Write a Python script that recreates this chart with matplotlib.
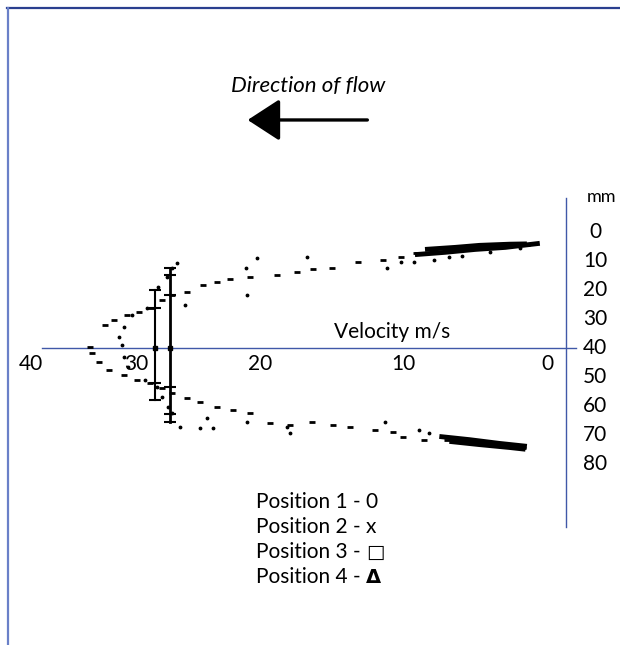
import matplotlib.pyplot as plt

# velocity profiles: velocity (m/s) vs distance across pipe (mm)
pos1_v = [31.85, 30.8, 30.2, 29.3, 28.4, 27.6, 26.8, 26.1, 25.1, 24.0, 23.0, 22.1, 20.7, 18.8,
          17.4, 16.3, 15.0, 13.2, 11.4, 10.2, 9.1, 7.5, 5.6, 3.8, 1.4]
pos1_mm = [39.7, 32.1, 30.3, 28.6, 27.6, 26.2, 23.4, 21.7, 20.7, 18.3, 17.2, 16.2, 15.5, 14.8,
           13.8, 12.8, 12.4, 10.3, 9.7, 8.6, 7.2, 6.9, 6.2, 5.2, 4.5]
pos1_low_v = [31.7, 31.2, 30.5, 29.5, 28.6, 27.7, 26.8, 26.1, 25.1, 24.2, 23.0, 21.9, 20.7, 19.3,
              17.9, 16.4, 14.9, 13.7, 12.0, 10.7, 10.0, 8.6, 7.0, 5.9, 4.7, 3.5, 1.7]
pos1_low_mm = [41.7, 44.8, 47.6, 49.3, 51.0, 52.1, 53.8, 55.5, 57.2, 58.6, 60.3, 61.4, 62.4, 65.9,
               66.6, 65.5, 66.6, 67.2, 68.3, 69.0, 70.7, 71.7, 71.7, 71.0, 72.4, 73.4, 74.5]

pos2_v = [29.6, 29.8, 29.5, 28.9, 27.9, 27.1, 26.5, 26.1, 25.8, 25.2, 20.9, 21.0, 20.2, 16.7,
          11.15, 10.2, 9.3, 7.9, 6.8, 5.9, 4.0, 1.9]
pos2_mm = [39.0, 36.2, 32.8, 28.6, 26.2, 19.0, 15.5, 12.4, 10.7, 25.2, 21.7, 12.4, 9.0, 8.6,
           12.4, 10.3, 10.3, 9.7, 8.6, 8.3, 6.9, 5.5]
pos2_low_v = [29.5, 29.2, 28.0, 27.2, 26.8, 26.4, 26.1, 25.6, 24.2, 23.3, 23.7, 20.9, 18.1, 17.9,
              11.3, 8.9, 8.2, 6.1, 4.0, 1.9]
pos2_low_mm = [43.1, 46.6, 51.0, 53.4, 56.9, 60.3, 62.4, 67.2, 67.6, 67.6, 64.1, 65.5, 67.2, 69.3,
               65.5, 68.3, 69.3, 71.7, 72.4, 73.8]

pos3_v = [27.3, 27.3, 27.3, 27.3]
pos3_mm = [20.0, 26.2, 52.1, 57.9]
pos3_top_v = [9.2, 7.1, 5.0, 2.9, 0.5]
pos3_top_mm = [7.8, 7.0, 6.0, 5.3, 3.9]
pos3_bot_v = [7.5, 5.4, 3.3, 1.4]
pos3_bot_mm = [70.5, 71.6, 72.9, 73.9]

pos4_v = [26.3, 26.3, 26.3, 26.3, 26.3, 26.3]
pos4_mm = [12.4, 14.8, 21.7, 53.4, 62.8, 65.5]
pos4_top_v = [8.5, 6.4, 4.7, 2.6, 1.4]
pos4_top_mm = [6.0, 5.3, 4.6, 4.2, 4.1]
pos4_bot_v = [6.8, 4.7, 2.6, 1.5]
pos4_bot_mm = [72.2, 73.3, 74.3, 74.9]

vel_ticks = [36.0, 28.6, 20.0, 10.0, 0.0]
vel_labels = ['40', '30', '20', '10', '0']
mm_ticks = [0, 10, 20, 30, 40, 50, 60, 70, 80]
legend_lines = ['Position 1 - 0', 'Position 2 - x', 'Position 3 - ', 'Position 4 - ']
legend_syms = ['', '', '\u25a1', '\u0394']

plt.rcParams['font.family'] = ['Lato', 'DejaVu Sans']

fig = plt.figure(figsize=(6.2, 6.45), dpi=100)
ax = fig.add_axes([0, 0, 1, 1])
ax.set_xlim(38.12, -5.09)
ax.set_ylim(142.4, -80)
ax.axis('off')

blue = '#4058a8'
# outer frame (top and left)
ax.plot([0.012, 1.0], [0.988, 0.988], color='#2a3f8f', lw=1.6, transform=ax.transAxes)
ax.plot([0.013, 0.013], [0.988, 0.0], color='#6a80c8', lw=1.6, transform=ax.transAxes)

# axes lines
ax.plot([35.2, -2.0], [40, 40], color=blue, lw=1)
ax.plot([-1.32, -1.32], [-11.7, 101.7], color=blue, lw=1)

mk = dict(color='black', ls='none', marker='_', ms=5, mew=2)
ax.plot(pos1_v, pos1_mm, **mk)
ax.plot(pos1_low_v, pos1_low_mm, **mk)
ax.plot(pos2_v, pos2_mm, color='black', ls='none', marker='.', ms=3.5)
ax.plot(pos2_low_v, pos2_low_mm, color='black', ls='none', marker='.', ms=3.5)

ax.plot(pos3_v, pos3_mm, color='black', lw=1.5, marker='_', ms=9, mew=1.5)
ax.plot(pos4_v, pos4_mm, color='black', lw=2, marker='_', ms=9, mew=1.5)
ax.plot([pos3_v[0], pos4_v[0]], [40, 40], color='black', ls='none', marker='s', ms=3.5)
for vv, mm in [(pos3_top_v, pos3_top_mm), (pos3_bot_v, pos3_bot_mm),
               (pos4_top_v, pos4_top_mm), (pos4_bot_v, pos4_bot_mm)]:
    ax.plot(vv, mm, color='black', lw=3.5, solid_capstyle='butt')

# tick labels
for t, lab in zip(vel_ticks, vel_labels):
    ax.text(t, 45.5, lab, ha='center', va='center', fontsize=15)
for t in mm_ticks:
    ax.text(-3.35, t, str(t), ha='center', va='center', fontsize=15)
ax.text(-3.8, -12, 'mm', ha='center', va='center', fontsize=13)
ax.text(10.8, 34.5, 'Velocity m/s', ha='center', va='center', fontsize=15)

ax.text(0.497, 0.867, 'Direction of flow', ha='center', va='center', fontsize=16,
        style='italic', transform=ax.transAxes)
ax.annotate('', xy=(0.395, 0.814), xytext=(0.597, 0.814), xycoords='axes fraction',
            arrowprops=dict(arrowstyle='-|>,head_length=1.0,head_width=0.65',
                            color='black', lw=2.4, mutation_scale=20))

for i, line in enumerate(legend_lines):
    t = ax.text(0.413, 0.222 - i * 0.039, line, ha='left', va='center', fontsize=15,
                transform=ax.transAxes)
    if legend_syms[i]:
        ax.annotate(legend_syms[i], xy=(1, 0.5), xycoords=t, ha='left', va='center',
                    fontsize=14, fontweight='bold', family='DejaVu Sans')

fig.savefig('out.png', dpi=100)
